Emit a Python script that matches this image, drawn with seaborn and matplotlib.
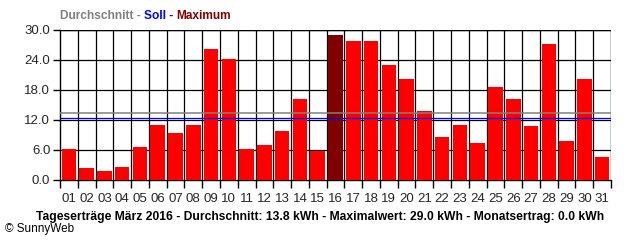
import matplotlib
matplotlib.use("Agg")
import matplotlib.pyplot as plt
import seaborn as sns
import numpy as np

days = [f"{d:02d}" for d in range(1, 32)]
values = [6.2, 2.4, 1.8, 2.6, 6.6, 11.0, 9.4, 11.0, 26.2, 24.2,
          6.2, 7.0, 9.8, 16.2, 5.9, 29.0, 27.8, 27.8, 23.0, 20.2,
          13.8, 8.6, 11.0, 7.4, 18.6, 16.2, 10.8, 27.2, 7.8, 20.2, 4.6]
durchschnitt = 13.5
soll = 12.5
yticks = [0, 6, 12, 18, 24, 30]

sns.set_theme(style="white")
plt.rcParams['font.family'] = ['Liberation Sans', 'DejaVu Sans']

fig = plt.figure(figsize=(6.4, 2.4), dpi=100)
ax = fig.add_axes([60/640, 60/240, 551/640, 150/240])

maxv = max(values)
colors = ["#800000" if v == maxv else "#ff0000" for v in values]
sns.barplot(x=days, y=values, hue=days, palette=colors, legend=False,
            width=0.82, saturation=1, ax=ax, zorder=3, edgecolor="none")

ax.set_xlim(-0.5, 30.5)
ax.set_ylim(0, 30)
ax.set_yticks(yticks)
ax.set_yticklabels([f"{t:.1f}" for t in yticks], fontsize=9.5)
for t in yticks[1:]:
    ax.axhline(t, color="black", lw=0.9, zorder=1)
for k in range(1, 31):
    ax.axvline(k - 0.5, color="black", lw=0.9, zorder=1)

ax.axhline(durchschnitt, color="#808080", lw=1.1, zorder=4)
ax.axhline(soll, color="#0000ff", lw=0.9, zorder=4)

ax.set_xticks(np.arange(31))
ax.set_xticklabels(days, fontsize=9.5)
ax.tick_params(axis="x", which="major", length=0, pad=9)
ax.set_xticks(np.arange(-0.5, 31, 1), minor=True)
ax.tick_params(axis="x", which="minor", length=6, width=1.0, color="black", direction="out", bottom=True)
ax.tick_params(axis="y", length=5, width=1.0, color="black", direction="out", left=True, pad=2)
ax.set_xlabel("")
ax.set_ylabel("")
for s in ax.spines.values():
    s.set_color("black")
    s.set_linewidth(1.0)
ax.spines["top"].set_visible(False)
ax.spines["right"].set_visible(False)
ax.axhline(30, color="black", lw=1.0, zorder=1)
ax.axvline(30.5, color="black", lw=1.0, zorder=1)

# header legend
x0 = 60/640
y0 = 1 - 16/240
parts = [("Durchschnitt - ", "#808080"), ("Soll - ", "#0000ff"), ("Maximum", "#800000")]
renderer = fig.canvas.get_renderer()
x = x0
for txt, c in parts:
    t = fig.text(x, y0, txt, color=c, fontsize=8.6, fontweight="bold", va="center", ha="left")
    bb = t.get_window_extent(renderer=renderer)
    x += bb.width / 640

fig.text(320/640, 1 - 217/240,
         "Tageserträge März 2016 - Durchschnitt: 13.8 kWh - Maximalwert: 29.0 kWh - Monatsertrag: 0.0 kWh",
         ha="center", va="center", fontsize=8.7, fontweight="bold", color="black")
fig.text(5/640, 1 - 229/240, "© SunnyWeb", ha="left", va="center", fontsize=8.5, color="black")

fig.savefig("out.png", dpi=100)
